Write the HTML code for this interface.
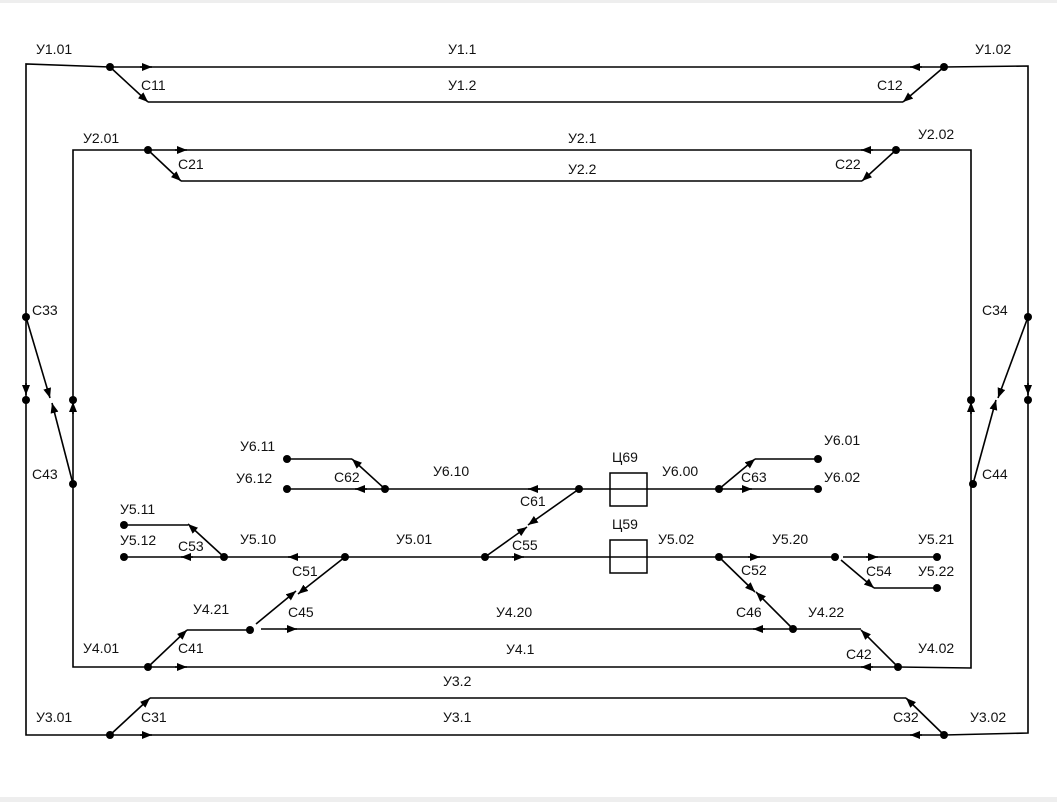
<!DOCTYPE html>
<html><head><meta charset="utf-8"><style>
html,body{margin:0;padding:0;background:#fff;}
svg{display:block;}
text{font-family:"Liberation Sans",sans-serif;font-size:14px;fill:#111;}
</style></head><body>
<svg width="1057" height="802" viewBox="0 0 1057 802" xmlns="http://www.w3.org/2000/svg">
<defs>
<marker id="a" viewBox="0 0 10 8" refX="10" refY="4" markerWidth="10" markerHeight="8" markerUnits="userSpaceOnUse" orient="auto"><path d="M0,0 L10,4 L0,8 z" fill="#000"/></marker>
</defs>
<rect x="0" y="0" width="1057" height="3" fill="#eee"/>
<rect x="0" y="797" width="1057" height="5" fill="#eee"/>
<g stroke="#000" stroke-width="1.6" fill="none">
<path d="M110 67 L26 64 L26 735 L110 735"/>
<path d="M944 67 L1028 66 L1028 733 L944 735"/>
<path d="M110 67 L944 67"/>
<path d="M110 735 L944 735"/>
<path d="M148 102 L903 102"/>
<path d="M150 698 L906 698"/>
<path d="M148 150 L73 150 L73 667 L148 667"/>
<path d="M896 150 L971 150 L971 668 L898 667"/>
<path d="M148 150 L896 150"/>
<path d="M181 181 L862 181"/>
<path d="M148 667 L898 667"/>
<path d="M187 630 L250 630"/>
<path d="M261 629 L861 629"/>
<path d="M124 557 L835 557"/>
<path d="M843 557 L937 557"/>
<path d="M874 588 L937 588"/>
<path d="M124 525 L188 525"/>
<path d="M287 489 L818 489"/>
<path d="M287 459 L352 459"/>
<path d="M755 459 L818 459"/>
</g>
<rect x="610" y="540" width="37" height="33" fill="#fff" stroke="#000" stroke-width="1.5"/>
<rect x="610" y="473" width="37" height="33" fill="#fff" stroke="#000" stroke-width="1.5"/>
<path d="M610 557 L647 557 M610 489 L647 489" stroke="#000" stroke-width="1.6"/>
<g stroke="#000" stroke-width="1.6" fill="none" marker-end="url(#a)">
<path d="M110 67 L148 102"/>
<path d="M944 67 L903 102"/>
<path d="M148 150 L181 181"/>
<path d="M896 150 L862 181"/>
<path d="M148 667 L187 630"/>
<path d="M898 667 L861 630"/>
<path d="M110 735 L150 698"/>
<path d="M944 735 L906 698"/>
<path d="M26 317 L50 398"/>
<path d="M73 484 L52 403"/>
<path d="M1028 317 L998 398"/>
<path d="M973 484 L996 400"/>
<path d="M256 624 L296 591"/>
<path d="M345 557 L298 594"/>
<path d="M793 629 L756 592"/>
<path d="M719 557 L755 592"/>
<path d="M224 557 L188 524"/>
<path d="M841 560 L874 588"/>
<path d="M485 557 L527 527"/>
<path d="M579 489 L528 525"/>
<path d="M385 489 L352 459"/>
<path d="M719 489 L755 459"/>
<path d="M140 67 L152 67"/>
<path d="M922 67 L910 67"/>
<path d="M175 150 L187 150"/>
<path d="M873 150 L861 150"/>
<path d="M175 667 L187 667"/>
<path d="M873 667 L861 667"/>
<path d="M140 735 L152 735"/>
<path d="M922 735 L910 735"/>
<path d="M285 629 L297 629"/>
<path d="M765 629 L753 629"/>
<path d="M193 557 L181 557"/>
<path d="M300 557 L288 557"/>
<path d="M512 557 L524 557"/>
<path d="M748 557 L760 557"/>
<path d="M866 557 L878 557"/>
<path d="M367 489 L355 489"/>
<path d="M540 489 L528 489"/>
<path d="M740 489 L752 489"/>
<path d="M26 383 L26 395"/>
<path d="M73 414 L73 402"/>
<path d="M971 414 L971 402"/>
<path d="M1028 383 L1028 395"/>
</g>
<g fill="#000">
<circle cx="110" cy="67" r="4"/><circle cx="944" cy="67" r="4"/>
<circle cx="148" cy="150" r="4"/><circle cx="896" cy="150" r="4"/>
<circle cx="148" cy="667" r="4"/><circle cx="898" cy="667" r="4"/>
<circle cx="110" cy="735" r="4"/><circle cx="944" cy="735" r="4"/>
<circle cx="26" cy="317" r="4"/><circle cx="26" cy="400" r="4"/>
<circle cx="73" cy="400" r="4"/><circle cx="73" cy="484" r="4"/>
<circle cx="1028" cy="317" r="4"/><circle cx="1028" cy="400" r="4"/>
<circle cx="971" cy="400" r="4"/><circle cx="973" cy="484" r="4"/>
<circle cx="250" cy="630" r="4"/><circle cx="793" cy="629" r="4"/>
<circle cx="124" cy="557" r="4"/><circle cx="224" cy="557" r="4"/><circle cx="345" cy="557" r="4"/><circle cx="485" cy="557" r="4"/><circle cx="719" cy="557" r="4"/><circle cx="835" cy="557" r="4"/><circle cx="937" cy="557" r="4"/>
<circle cx="937" cy="588" r="4"/><circle cx="124" cy="525" r="4"/>
<circle cx="287" cy="459" r="4"/><circle cx="287" cy="489" r="4"/><circle cx="385" cy="489" r="4"/><circle cx="579" cy="489" r="4"/><circle cx="719" cy="489" r="4"/><circle cx="818" cy="489" r="4"/><circle cx="818" cy="459" r="4"/>
</g>
<g>
<text x="36" y="54">У1.01</text><text x="448" y="54">У1.1</text><text x="975" y="54">У1.02</text>
<text x="141" y="90">С11</text><text x="448" y="90">У1.2</text><text x="877" y="90">С12</text>
<text x="83" y="143">У2.01</text><text x="568" y="143">У2.1</text><text x="918" y="139">У2.02</text>
<text x="178" y="169">С21</text><text x="568" y="174">У2.2</text><text x="835" y="169">С22</text>
<text x="32" y="315">С33</text><text x="982" y="315">С34</text>
<text x="32" y="479">С43</text><text x="982" y="479">С44</text>
<text x="240" y="451">У6.11</text><text x="824" y="445">У6.01</text>
<text x="236" y="483">У6.12</text><text x="334" y="482">С62</text><text x="433" y="476">У6.10</text>
<text x="612" y="462">Ц69</text><text x="662" y="476">У6.00</text><text x="741" y="482">С63</text><text x="824" y="482">У6.02</text>
<text x="120" y="514">У5.11</text><text x="520" y="506">С61</text>
<text x="120" y="545">У5.12</text><text x="178" y="551">С53</text><text x="240" y="544">У5.10</text><text x="396" y="544">У5.01</text><text x="512" y="550">С55</text>
<text x="612" y="529">Ц59</text><text x="658" y="544">У5.02</text><text x="772" y="544">У5.20</text><text x="918" y="544">У5.21</text>
<text x="292" y="576">С51</text><text x="741" y="575">С52</text><text x="866" y="576">С54</text><text x="918" y="576">У5.22</text>
<text x="193" y="614">У4.21</text><text x="288" y="617">С45</text><text x="496" y="617">У4.20</text><text x="736" y="617">С46</text><text x="808" y="617">У4.22</text>
<text x="83" y="653">У4.01</text><text x="178" y="653">С41</text><text x="506" y="654">У4.1</text><text x="846" y="659">С42</text><text x="918" y="653">У4.02</text>
<text x="443" y="686">У3.2</text>
<text x="36" y="722">У3.01</text><text x="141" y="722">С31</text><text x="443" y="722">У3.1</text><text x="893" y="722">С32</text><text x="970" y="722">У3.02</text>
</g>
</svg>
</body></html>
